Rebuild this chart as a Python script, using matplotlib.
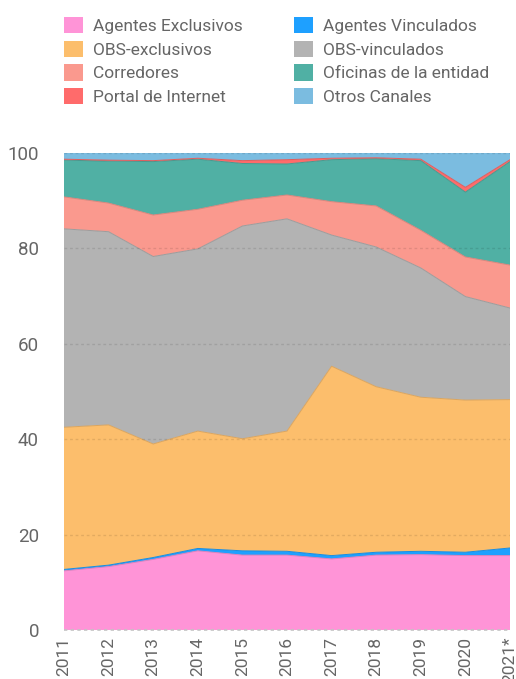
import matplotlib
matplotlib.use("Agg")
import matplotlib.pyplot as plt
import matplotlib.colors as mcolors
import numpy as np

plt.rcParams['font.family'] = ['Roboto', 'DejaVu Sans']

years = [2011, 2012, 2013, 2014, 2015, 2016, 2017, 2018, 2019, 2020, 2021]
year_labels = ["2011", "2012", "2013", "2014", "2015", "2016", "2017", "2018", "2019", "2020", "2021*"]

agentes_exclusivos = [12.4, 13.3, 14.8, 16.6, 15.7, 15.7, 14.9, 15.7, 15.8, 15.6, 15.6]
agentes_vinculados = [0.3, 0.3, 0.4, 0.5, 0.9, 0.8, 0.7, 0.6, 0.7, 0.7, 1.6]
obs_exclusivos = [29.8, 29.4, 23.8, 24.6, 23.5, 25.2, 39.7, 34.7, 32.3, 31.9, 31.1]
obs_vinculados = [41.6, 40.5, 39.3, 38.2, 44.6, 44.5, 27.5, 29.3, 27.1, 21.7, 19.2]
corredores = [6.7, 6.0, 8.7, 8.3, 5.4, 5.0, 7.0, 8.6, 7.9, 8.3, 9.0]
oficinas = [7.7, 8.8, 11.2, 10.5, 7.7, 6.5, 8.8, 9.9, 14.6, 13.6, 21.7]
portal = [0.2, 0.2, 0.2, 0.2, 0.6, 0.9, 0.3, 0.2, 0.3, 1.0, 0.4]
otros = [1.3, 1.5, 1.6, 1.1, 1.6, 1.4, 1.1, 1.0, 1.3, 7.2, 1.4]

names = ["Agentes Exclusivos", "Agentes Vinculados", "OBS-exclusivos", "OBS-vinculados",
         "Corredores", "Oficinas de la entidad", "Portal de Internet", "Otros Canales"]
series = [agentes_exclusivos, agentes_vinculados, obs_exclusivos, obs_vinculados,
          corredores, oficinas, portal, otros]
colors = ["#FF94D7", "#1EA0FF", "#FCBE6C", "#B3B3B3", "#FA998E", "#50B0A4", "#FF6B6B", "#7BBCE0"]

def darker(c, f=0.87):
    r, g, b = mcolors.to_rgb(c)
    return (r * f, g * f, b * f)

W, H = 516, 679
fig = plt.figure(figsize=(W / 100, H / 100), dpi=100)
ax = fig.add_axes([64 / W, 1 - 630 / H, (510 - 64) / W, (630 - 153) / H])

x = np.array(years)
polys = ax.stackplot(x, *series, colors=colors, labels=names,
                     edgecolor='none', linewidth=0)
cum = np.cumsum(np.array(series), axis=0)
for i in range(len(series) - 1):
    ax.plot(x, cum[i], color=darker(colors[i]), lw=0.7, zorder=3)

ax.set_xlim(2011, 2021)
ax.set_ylim(0, 100)
for v in [20, 40, 60, 80, 100]:
    ax.axhline(v, color='black', alpha=0.1, lw=1, linestyle=(0, (2, 2)), zorder=4)
ax.axhline(0, color='#C4C4C4', lw=1.2, linestyle=(0, (2, 2)), zorder=4, clip_on=False)

for s in ax.spines.values():
    s.set_visible(False)
ax.set_yticks([0, 20, 40, 60, 80, 100])
ax.set_yticklabels(["0", "20", "40", "60", "80", "100"])
ax.set_xticks(years)
ax.set_xticklabels(year_labels, rotation=90, va='top', ha='center')
ax.tick_params(axis='y', length=0, pad=18, labelsize=13.5, labelcolor='#666666')
ax.tick_params(axis='x', length=0, pad=5, labelsize=12.5, labelcolor='#666666')

handles = polys
order = [0, 2, 4, 6, 1, 3, 5, 7]
leg = fig.legend([handles[i] for i in order], [names[i] for i in order],
                 ncol=2, loc='upper left', bbox_to_anchor=(64 / W, 1 - 17 / H),
                 frameon=False, fontsize=12.5, handlelength=1.1, handleheight=1.05,
                 handletextpad=0.58, columnspacing=2.95, labelspacing=0.39,
                 labelcolor='#666666', borderaxespad=0, borderpad=0)

fig.savefig("out.png", dpi=100)
